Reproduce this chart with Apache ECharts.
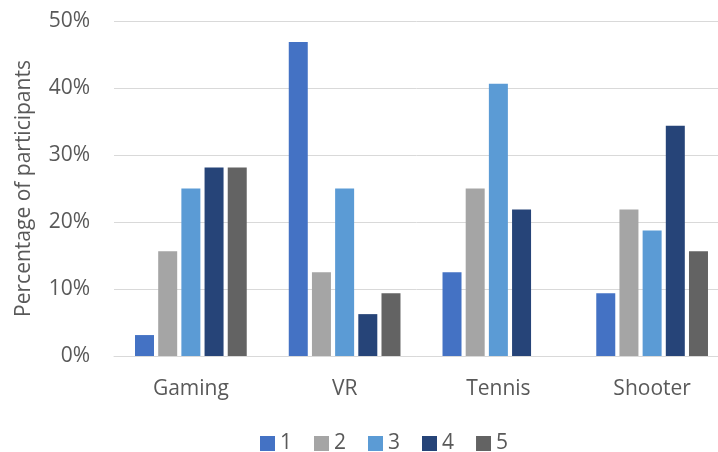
<!DOCTYPE html>
<html>
<head>
<meta charset="utf-8">
<script src="https://cdn.jsdelivr.net/npm/echarts@6/dist/echarts.min.js"></script>
<style>html,body{margin:0;padding:0;background:#fff;}#c{width:718px;height:452px;}</style>
</head>
<body>
<div id="c"></div>
<script>
const categories = ['Gaming', 'VR', 'Tennis', 'Shooter'];
const seriesNames = ['1', '2', '3', '4', '5'];
const s1 = [3.125, 46.875, 12.5, 9.375];
const s2 = [15.625, 12.5, 25, 21.875];
const s3 = [25, 25, 40.625, 18.75];
const s4 = [28.125, 6.25, 21.875, 34.375];
const s5 = [28.125, 9.375, 0, 15.625];
const colors = ['#4472C4', '#A5A5A5', '#5B9BD5', '#264478', '#636363'];
const values = [s1, s2, s3, s4, s5];
const font = '"Open Sans", "Noto Sans", sans-serif';

const chart = echarts.init(document.getElementById('c'), null, {renderer: 'canvas'});
chart.setOption({
  animation: false,
  backgroundColor: '#ffffff',
  textStyle: {fontFamily: font},
  grid: {left: 114, top: 21, width: 615, height: 335, containLabel: false, outerBoundsMode: 'none'},
  legend: {
    data: seriesNames,
    top: 428,
    left: 255,
    itemWidth: 15, itemHeight: 15, itemGap: 22,
    icon: 'rect',
    textStyle: {fontSize: 21, color: '#595959', fontFamily: font}
  },
  xAxis: {
    type: 'category',
    data: categories,
    axisLine: {lineStyle: {color: '#D9D9D9', width: 1}},
    axisTick: {show: false},
    axisLabel: {fontSize: 21, color: '#595959', margin: 23, fontFamily: font}
  },
  yAxis: {
    type: 'value',
    min: 0, max: 50, interval: 10,
    name: 'Percentage of participants',
    nameLocation: 'middle',
    nameGap: 79,
    nameRotate: 90,
    nameTextStyle: {fontSize: 21, color: '#595959', fontFamily: font},
    axisLine: {show: false},
    axisTick: {show: false},
    splitLine: {lineStyle: {color: '#D9D9D9', width: 1}},
    axisLabel: {fontSize: 21, color: '#595959', margin: 24, fontFamily: font, formatter: '{value}%'}
  },
  series: seriesNames.map((n, i) => ({
    name: n,
    type: 'bar',
    data: values[i],
    barWidth: 19,
    barGap: '22%',
    itemStyle: {color: colors[i]}
  }))
});
</script>
</body>
</html>
